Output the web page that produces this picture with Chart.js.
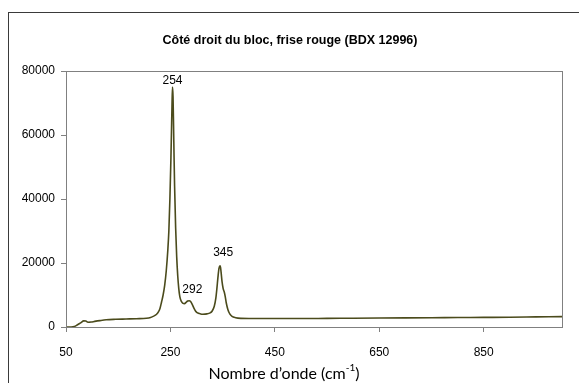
<!DOCTYPE html>
<html>
<head>
<meta charset="utf-8">
<script src="https://cdn.jsdelivr.net/npm/chart.js@4.4.1/dist/chart.umd.min.js"></script>
<style>
  body { margin: 0; background: #fff; }
  #chartWin { display: block; }
</style>
</head>
<body>
<canvas id="chartWin" width="579" height="383"></canvas>
<script>
// wavenumber (cm-1) and intensity
var waveNum = [50, 60, 66, 72, 78, 84, 88, 92, 98, 105, 115, 127, 145, 165, 185, 204, 212, 218, 223, 227,
	230, 233, 236, 239, 242, 245, 247, 249, 251, 252, 253, 254, 255, 256, 257, 258, 260, 262, 264, 266,
	268, 271, 274, 277, 280, 283, 286, 289, 292, 295, 298, 301, 306, 312, 320, 326, 330, 334, 337, 339,
	341, 343, 345, 346, 347, 349, 351, 353, 355, 357, 360, 364, 368, 375, 385, 400, 450, 500, 550, 600,
	650, 700, 750, 800, 850, 900, 950, 1000];
var intensity = [0, 0, 150, 700, 1300, 1900, 1850, 1500, 1550, 1750, 2000, 2250, 2400, 2500, 2600, 2750, 3000, 3400, 3900, 4700,
	5800, 7800, 10000, 13000, 17500, 24000, 30000, 40000, 53000, 61000, 69000, 75000, 72000, 63000, 53000, 44000, 31000, 22000, 16000, 12000,
	9500, 8000, 7400, 7300, 7700, 8100, 8200, 7900, 7000, 5900, 5000, 4500, 4200, 4000, 4100, 4400, 5000, 6500, 9000, 12000,
	15500, 18300, 19100, 18600, 17200, 14000, 12000, 11000, 9500, 7500, 5500, 4000, 3300, 2900, 2700, 2650, 2650, 2650, 2700, 2750,
	2800, 2850, 2900, 2950, 3000, 3050, 3150, 3250];

var xTicks = [50, 250, 450, 650, 850];
var yTicks = [0, 20000, 40000, 60000, 80000];

// peak labels: text, x, y
var peakText = ['254', '292', '345'];
var peakX = [254, 292, 351];
var peakY = [77000, 11600, 23200];

var titleText = 'Côté droit du bloc, frise rouge (BDX 12996)';
var axisText = 'Nombre d’onde (cm';

var pts = [];
for (var i = 0; i < waveNum.length; i++) {
	pts.push({ x: waveNum[i], y: intensity[i] });
}

var frameCol = '#808080';
var fam = '"Liberation Sans", Arial, sans-serif';

var decoPlugin = {
	id: 'deco',
	beforeDraw: function(chart) {
		var c = chart.ctx;
		c.save();
		c.fillStyle = '#fff';
		c.fillRect(0, 0, chart.width, chart.height);
		// outer chart box (runs off the right / bottom)
		c.strokeStyle = '#3a3a3a';
		c.lineWidth = 1;
		c.strokeRect(8.5, 12.5, 700, 500);
		c.restore();
	},
	afterDraw: function(chart) {
		var c = chart.ctx;
		var a = chart.chartArea;
		var xs = chart.scales.x, ys = chart.scales.y;
		c.save();
		c.strokeStyle = frameCol;
		c.lineWidth = 1;
		c.strokeRect(Math.round(a.left) + 0.5, Math.round(a.top) + 0.5,
			Math.round(a.right - a.left), Math.round(a.bottom - a.top));

		// title
		c.fillStyle = '#000';
		c.textAlign = 'center';
		c.textBaseline = 'middle';
		c.font = 'bold 12.5px "Liberation Sans Narrow", "Liberation Sans", Arial, sans-serif';
		c.fillText(titleText, 290, 41);

		// peak labels
		c.font = '12px ' + fam;
		for (var i = 0; i < peakText.length; i++) {
			c.fillText(peakText[i], xs.getPixelForValue(peakX[i]), ys.getPixelForValue(peakY[i]));
		}

		// x axis title with superscript
		c.font = '16px Lato, "Open Sans", sans-serif';
		var w1 = c.measureText(axisText).width;
		c.font = '10px Lato, "Open Sans", sans-serif';
		var w2 = c.measureText('-1').width;
		c.font = '16px Lato, "Open Sans", sans-serif';
		var w3 = c.measureText(')').width;
		var x0 = 284 - (w1 + w2 + w3) / 2;
		c.textAlign = 'left';
		c.fillText(axisText, x0, 374);
		c.font = '10px Lato, "Open Sans", sans-serif';
		c.fillText('-1', x0 + w1, 368);
		c.font = '16px Lato, "Open Sans", sans-serif';
		c.fillText(')', x0 + w1 + w2, 374);
		c.restore();
	}
};

var chartArea = document.getElementById('chartWin');
var myChart = new Chart(chartArea, {
	type: 'scatter',
	data: {
		datasets: [{
			data: pts,
			showLine: true,
			borderColor: '#4b4b1c',
			borderWidth: 1.6,
			pointRadius: 0,
			cubicInterpolationMode: 'monotone'
		}]
	},
	options: {
		responsive: false,
		devicePixelRatio: 1,
		animation: false,
		layout: { padding: { left: 0, top: 71, right: 17, bottom: 0 } },
		plugins: {
			legend: { display: false },
			tooltip: { enabled: false }
		},
		scales: {
			x: {
				type: 'linear',
				min: 50,
				max: 1000,
				afterBuildTicks: function(s) {
					s.ticks = xTicks.map(function(v) { return { value: v }; });
				},
				afterFit: function(s) { s.height = 56; },
				grid: { drawOnChartArea: false, drawTicks: true, tickLength: 5, color: frameCol },
				border: { color: frameCol },
				ticks: {
					color: '#000', font: { family: fam, size: 12 }, padding: 13, maxRotation: 0, autoSkip: false,
					callback: function(v) { return String(v); }
				}
			},
			y: {
				min: 0,
				max: 80000,
				afterBuildTicks: function(s) {
					s.ticks = yTicks.map(function(v) { return { value: v }; });
				},
				afterFit: function(s) { s.width = 66; },
				grid: { drawOnChartArea: false, drawTicks: true, tickLength: 5, color: frameCol },
				border: { color: frameCol },
				ticks: {
					color: '#000', font: { family: fam, size: 12 }, padding: 6,
					callback: function(v) { return String(v); }
				}
			}
		}
	},
	plugins: [decoPlugin]
});
</script>
</body>
</html>
